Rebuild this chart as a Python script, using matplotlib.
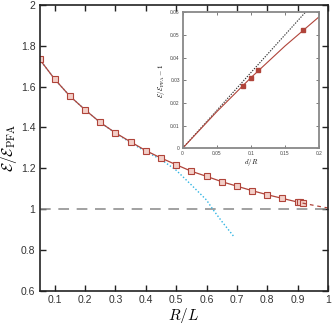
import matplotlib
matplotlib.use("Agg")
import matplotlib.pyplot as plt
from matplotlib.ticker import FuncFormatter

plt.rcParams['mathtext.fontset'] = 'cm'
plt.rcParams['font.family'] = ['Liberation Sans', 'DejaVu Sans']

# main panel: exact ratio vs R/L
r_over_l = [0.05, 0.1, 0.15, 0.2, 0.25, 0.3, 0.35, 0.4, 0.45, 0.5, 0.55, 0.6,
            0.65, 0.7, 0.75, 0.8, 0.85, 0.9, 0.908, 0.916]
ratio = [1.734, 1.636, 1.553, 1.486, 1.424, 1.373, 1.329, 1.286, 1.250, 1.217,
         1.185, 1.160, 1.134, 1.112, 1.090, 1.070, 1.052, 1.034, 1.032, 1.029]
# extrapolation to R/L = 1
extrap_x = [0.916, 0.96, 1.0]
extrap_y = [1.029, 1.016, 1.005]
# derivative expansion curve
de_x = [0.05, 0.1, 0.15, 0.2, 0.25, 0.3, 0.35, 0.4, 0.45, 0.5, 0.55, 0.6, 0.62, 0.65, 0.69]
de_y = [1.734, 1.636, 1.553, 1.486, 1.424, 1.372, 1.325, 1.281, 1.243, 1.190,
        1.118, 1.044, 1.0, 0.94, 0.865]

# inset: ratio - 1 vs d/R
inset_dx = [0, 0.05, 0.1, 0.15, 0.2]
inset_line = [0, 0.0161, 0.0311, 0.0451, 0.058]
inset_pts_x = [0.088, 0.1, 0.111, 0.1766]
inset_pts_y = [0.0275, 0.0309, 0.0344, 0.0522]
pfa_x = [0, 0.2]
pfa_y = [0, 0.0667]

red = '#b0443a'
blue = '#2fb4e3'
fmt = FuncFormatter(lambda v, p: '%g' % round(v, 4))

fig = plt.figure(figsize=(3.32, 3.23), dpi=100)
ax = fig.add_axes([0.119, 0.1, 0.869, 0.885])

ax.axhline(1.0, color='#888888', lw=1.1, dashes=(7, 5))
ax.plot(de_x, de_y, color=blue, lw=1.0, ls=(0, (1, 1.5)))
ax.plot(r_over_l, ratio, color=red, lw=0.9, marker='s', ms=4.2,
        mfc='#f3cfc8', mec=red, mew=0.8)
ax.plot(extrap_x, extrap_y, color=red, lw=0.9, dashes=(3, 3))

ax.set_xlim(0.05, 1.0)
ax.set_ylim(0.6, 2.0)
ax.set_xticks([0.1, 0.2, 0.3, 0.4, 0.5, 0.6, 0.7, 0.8, 0.9, 1.0])
ax.set_yticks([0.6, 0.8, 1.0, 1.2, 1.4, 1.6, 1.8, 2.0])
ax.xaxis.set_major_formatter(fmt)
ax.yaxis.set_major_formatter(fmt)
ax.tick_params(direction='in', top=True, right=True, length=4, width=1,
               labelsize=7.5, labelcolor='#333333', color='#222222', pad=3)
for s in ax.spines.values():
    s.set_color('#222222')
    s.set_linewidth(1.2)
ax.set_xlabel(r'$R/L$', fontsize=11)
ax.xaxis.set_label_coords(0.5, -0.053, transform=ax.transAxes)
ax.set_ylabel(r'$\mathcal{E}/\mathcal{E}_{\rm PFA}$', fontsize=11)
ax.yaxis.set_label_coords(-0.07, 0.5, transform=ax.transAxes)

ins = fig.add_axes([0.550, 0.541, 0.411, 0.421])
ins.plot(pfa_x, pfa_y, color='#333333', lw=0.8, ls=(0, (1.2, 1.2)))
ins.plot(inset_dx, inset_line, color=red, lw=0.8)
ins.plot(inset_pts_x, inset_pts_y, ls='none', marker='s', ms=2.5,
         mfc=red, mec=red)
ins.set_xlim(0, 0.2)
ins.set_ylim(0, 0.06)
ins.set_xticks([0, 0.05, 0.1, 0.15, 0.2])
ins.set_yticks([0, 0.01, 0.02, 0.03, 0.04, 0.05, 0.06])
ins.xaxis.set_major_formatter(fmt)
ins.yaxis.set_major_formatter(fmt)
ins.tick_params(direction='in', top=True, right=True, length=2, width=0.6,
                labelsize=3.5, labelcolor='#444444', color='#666666', pad=2)
for s in ins.spines.values():
    s.set_color('#888888')
    s.set_linewidth(1.3)
ins.set_xlabel(r'$d/R$', fontsize=5, labelpad=1)
ins.set_ylabel(r'$\mathcal{E}/\mathcal{E}_{\rm PFA}-1$', fontsize=5, labelpad=2)

fig.savefig('out.png', dpi=100)
